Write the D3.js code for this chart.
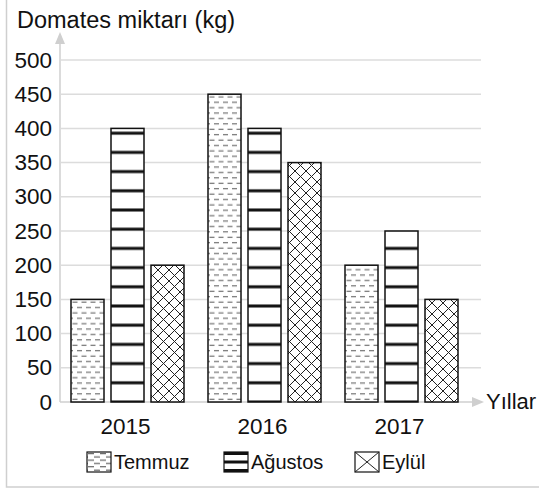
<!DOCTYPE html>
<html>
<head>
<meta charset="utf-8">
<script src="https://cdn.jsdelivr.net/npm/d3@7"></script>
<style>
  body { margin: 0; background: #fff; }
  svg { font-family: "Liberation Sans", Arial, sans-serif; }
</style>
</head>
<body>
<div id="chart"></div>
<script>
var years = ["2015", "2016", "2017"];
var months = ["Temmuz", "Ağustos", "Eylül"];
var temmuz = [150, 450, 200];
var agustos = [400, 400, 250];
var eylul = [200, 350, 150];
var yTicks = [0, 50, 100, 150, 200, 250, 300, 350, 400, 450, 500];

var width = 539, height = 489;
var base = 402;

var svg = d3.select("#chart").append("svg")
    .attr("width", width)
    .attr("height", height);

// outer frame
svg.append("rect")
    .attr("x", 6.5).attr("y", -5)
    .attr("width", 540).attr("height", 492)
    .attr("fill", "none")
    .attr("stroke", "#cfcfcf")
    .attr("stroke-width", 1.5);

var defs = svg.append("defs");

// Temmuz: staggered short dashes
var pT = defs.append("pattern")
    .attr("id", "pat-temmuz")
    .attr("patternUnits", "userSpaceOnUse")
    .attr("width", 9).attr("height", 10.8)
    .attr("y", base);
pT.append("rect").attr("width", 9).attr("height", 10.8).attr("fill", "#fff");
pT.append("line").attr("x1", 0).attr("x2", 5).attr("y1", 2.7).attr("y2", 2.7)
    .attr("stroke", "#555").attr("stroke-width", 1);
pT.append("line").attr("x1", 4.5).attr("x2", 9.5).attr("y1", 8.1).attr("y2", 8.1)
    .attr("stroke", "#555").attr("stroke-width", 1);
pT.append("line").attr("x1", -4.5).attr("x2", 0.5).attr("y1", 8.1).attr("y2", 8.1)
    .attr("stroke", "#555").attr("stroke-width", 1);

// Ağustos: thick horizontal bands
var pA = defs.append("pattern")
    .attr("id", "pat-agustos")
    .attr("patternUnits", "userSpaceOnUse")
    .attr("width", 10).attr("height", 19.2)
    .attr("y", base);
pA.append("rect").attr("width", 10).attr("height", 19.2).attr("fill", "#fff");
pA.append("rect").attr("y", -1.5).attr("width", 10).attr("height", 3).attr("fill", "#111");
pA.append("rect").attr("y", 17.7).attr("width", 10).attr("height", 3).attr("fill", "#111");

// Eylül: cross hatch
var pE = defs.append("pattern")
    .attr("id", "pat-eylul")
    .attr("patternUnits", "userSpaceOnUse")
    .attr("width", 11).attr("height", 11)
    .attr("y", base);
pE.append("rect").attr("width", 11).attr("height", 11).attr("fill", "#fff");
pE.append("path").attr("d", "M0,0L11,11M11,0L0,11")
    .attr("stroke", "#222").attr("stroke-width", 1);

var patterns = ["url(#pat-temmuz)", "url(#pat-agustos)", "url(#pat-eylul)"];
var series = [temmuz, agustos, eylul];

var y = d3.scaleLinear().domain([0, 500]).range([base, 60]);
var x0 = d3.scaleBand().domain(years).range([59, 470]);
var x1 = d3.scaleBand().domain(months).range([12, 125]).paddingInner(0.175);

// gridlines
svg.append("g").selectAll("line")
    .data(yTicks.slice(1))
    .enter().append("line")
    .attr("x1", 61).attr("x2", 481)
    .attr("y1", function(d) { return y(d); })
    .attr("y2", function(d) { return y(d); })
    .attr("stroke", "#dcdcdc")
    .attr("stroke-width", 1.5);

// axes
svg.append("line")
    .attr("x1", 60).attr("x2", 60).attr("y1", base).attr("y2", 40)
    .attr("stroke", "#cfcfcf").attr("stroke-width", 1.5);
svg.append("path").attr("d", "M55,44L60,32L65,44Z").attr("fill", "#cfcfcf");
svg.append("line")
    .attr("x1", 60).attr("x2", 476).attr("y1", base).attr("y2", base)
    .attr("stroke", "#cfcfcf").attr("stroke-width", 1.5);
svg.append("path").attr("d", "M472,397L484,402L472,407Z").attr("fill", "#cfcfcf");

// y tick labels
svg.append("g").selectAll("text")
    .data(yTicks)
    .enter().append("text")
    .attr("x", 52)
    .attr("y", function(d) { return y(d) + 7.5; })
    .attr("text-anchor", "end")
    .attr("font-size", 22.5)
    .attr("fill", "#111")
    .text(function(d) { return d; });

// bars
var groups = svg.append("g").selectAll("g")
    .data(years)
    .enter().append("g")
    .attr("transform", function(d) { return "translate(" + x0(d) + ",0)"; });

groups.selectAll("rect")
    .data(function(d, i) {
        return months.map(function(m, j) { return { m: m, j: j, v: series[j][i] }; });
    })
    .enter().append("rect")
    .attr("x", function(d) { return x1(d.m); })
    .attr("width", x1.bandwidth())
    .attr("y", function(d) { return y(d.v); })
    .attr("height", function(d) { return base - y(d.v); })
    .attr("fill", function(d) { return patterns[d.j]; })
    .attr("stroke", "#111")
    .attr("stroke-width", 1.5);

// year labels
svg.append("g").selectAll("text")
    .data(years)
    .enter().append("text")
    .attr("x", function(d) { return x0(d) + x0.bandwidth() / 2 - 2; })
    .attr("y", 434)
    .attr("text-anchor", "middle")
    .attr("font-size", 22.5)
    .attr("fill", "#111")
    .text(function(d) { return d; });

// titles
svg.append("text")
    .attr("x", 17).attr("y", 28)
    .attr("font-size", 23.5)
    .attr("fill", "#111")
    .text("Domates miktarı (kg)");
svg.append("text")
    .attr("x", 486).attr("y", 409)
    .attr("font-size", 22)
    .attr("fill", "#111")
    .text("Yıllar");

// legend swatches
var sw = defs.append("pattern").attr("id", "sw-temmuz")
    .attr("patternUnits", "userSpaceOnUse").attr("width", 12).attr("height", 6.6);
sw.append("rect").attr("width", 12).attr("height", 6.6).attr("fill", "#fff");
sw.append("line").attr("x1", 1).attr("x2", 7).attr("y1", 1.6).attr("y2", 1.6)
    .attr("stroke", "#444").attr("stroke-width", 1);
sw.append("line").attr("x1", 7).attr("x2", 13).attr("y1", 4.9).attr("y2", 4.9)
    .attr("stroke", "#444").attr("stroke-width", 1);
sw.append("line").attr("x1", -5).attr("x2", 1).attr("y1", 4.9).attr("y2", 4.9)
    .attr("stroke", "#444").attr("stroke-width", 1);

var legendX = [87, 224, 355];
var leg = svg.append("g").selectAll("g")
    .data(months)
    .enter().append("g")
    .attr("transform", function(d, i) { return "translate(" + legendX[i] + ",452)"; });
leg.append("rect")
    .attr("width", 24).attr("height", 20)
    .attr("fill", function(d, i) { return i == 0 ? "url(#sw-temmuz)" : "#fff"; })
    .attr("stroke", "#111")
    .attr("stroke-width", 1.2);
leg.filter(function(d, i) { return i == 1; }).selectAll(".band")
    .data([0, 8.5, 17])
    .enter().append("rect")
    .attr("x", 0).attr("y", function(d) { return d; })
    .attr("width", 24).attr("height", 3)
    .attr("fill", "#111");
leg.filter(function(d, i) { return i == 2; }).append("path")
    .attr("d", "M0,0L24,20M24,0L0,20")
    .attr("stroke", "#222").attr("stroke-width", 1);
leg.append("text")
    .attr("x", 27).attr("y", 16.5)
    .attr("font-size", 20)
    .attr("fill", "#111")
    .text(function(d) { return d; });
</script>
</body>
</html>
